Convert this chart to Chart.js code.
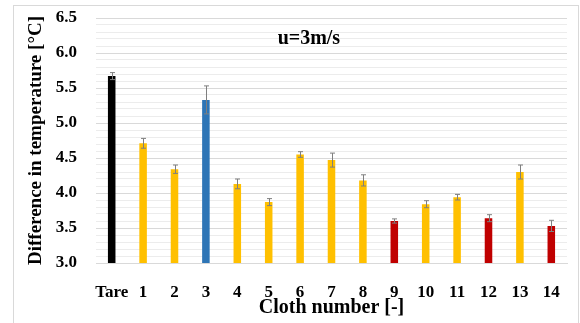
<!DOCTYPE html>
<html>
<head>
<meta charset="utf-8">
<script src="https://cdn.jsdelivr.net/npm/chart.js@4"></script>
<style>
  body { margin: 0; background: #fff; }
  #wrap { position: relative; width: 580px; height: 323px; overflow: hidden; }
  #frame { position: absolute; left: 13px; top: 5px; width: 566px; height: 340px; border: 1px solid #d9d9d9; box-sizing: border-box; }
  #clothChart { position: absolute; left: 0; top: 0; display: block; }
</style>
</head>
<body>
<div id="wrap">
  <div id="frame"></div>
  <canvas id="clothChart" width="580" height="323"></canvas>
</div>
<script>
const cloths = ["Tare", "1", "2", "3", "4", "5", "6", "7", "8", "9", "10", "11", "12", "13", "14"];
const tempDiff = [5.67, 4.71, 4.34, 5.33, 4.13, 3.87, 4.55, 4.47, 4.18, 3.60, 3.84, 3.94, 3.64, 4.30, 3.53];
const tempErr = [0.05, 0.07, 0.06, 0.20, 0.07, 0.05, 0.04, 0.10, 0.08, 0.03, 0.05, 0.04, 0.05, 0.10, 0.08];
const barColors = ["#000000", "#ffc000", "#ffc000", "#2e75b6", "#ffc000", "#ffc000", "#ffc000", "#ffc000",
                   "#ffc000", "#c00000", "#ffc000", "#ffc000", "#c00000", "#ffc000", "#c00000"];

const serif = "'Liberation Serif', 'Times New Roman', serif";

// error bars with small caps, drawn over each bar
const errorBars = {
    id: "errorBars",
    afterDatasetsDraw(chart) {
        const ctx = chart.ctx;
        const y = chart.scales.y;
        const meta = chart.getDatasetMeta(0);
        ctx.save();
        ctx.strokeStyle = "#7f7f7f";
        ctx.lineWidth = 1;
        meta.data.forEach((bar, i) => {
            const x = Math.round(bar.x) + 0.5;
            const top = y.getPixelForValue(tempDiff[i] + tempErr[i]);
            const bot = y.getPixelForValue(tempDiff[i] - tempErr[i]);
            ctx.beginPath();
            ctx.moveTo(x, top);
            ctx.lineTo(x, bot);
            ctx.moveTo(x - 2.5, top);
            ctx.lineTo(x + 2.5, top);
            ctx.moveTo(x - 2.5, bot);
            ctx.lineTo(x + 2.5, bot);
            ctx.stroke();
        });
        ctx.restore();
    }
};

// wind speed label inside the plot
const speedLabel = {
    id: "speedLabel",
    afterDraw(chart) {
        const ctx = chart.ctx;
        const area = chart.chartArea;
        ctx.save();
        ctx.font = "bold 20px " + serif;
        ctx.fillStyle = "#000";
        ctx.textAlign = "center";
        ctx.textBaseline = "middle";
        ctx.fillText("u=3m/s", area.left + area.width * 0.452, area.top + 21);
        ctx.restore();
    }
};

new Chart("clothChart", {
    type: "bar",
    data: {
        labels: cloths,
        datasets: [{
            data: tempDiff,
            backgroundColor: barColors,
            barPercentage: 0.24,
            categoryPercentage: 1
        }]
    },
    options: {
        responsive: false,
        animation: false,
        layout: { padding: { left: 0, right: 13, top: 18, bottom: 0 } },
        plugins: {
            legend: { display: false },
            tooltip: { enabled: false }
        },
        scales: {
            x: {
                grid: { display: false },
                border: { color: "#d9d9d9" },
                ticks: {
                    color: "#000",
                    padding: 11,
                    autoSkip: false,
                    maxRotation: 0,
                    font: { family: serif, size: 17, weight: "bold" }
                },
                title: {
                    display: true,
                    text: "Cloth number [-]",
                    color: "#000",
                    padding: { top: 0, bottom: 3 },
                    font: { family: serif, size: 20, weight: "bold" }
                },
                afterFit(scale) { scale.height = 60; }
            },
            y: {
                min: 3,
                max: 6.5,
                border: { display: false },
                grid: {
                    drawTicks: false,
                    color: (c) => {
                        const v = c.tick.value * 2;
                        return Math.abs(v - Math.round(v)) < 1e-6 ? "#d9d9d9" : "#ececec";
                    }
                },
                ticks: {
                    stepSize: 0.1,
                    autoSkip: false,
                    padding: 19,
                    color: "#000",
                    font: { family: serif, size: 17, weight: "bold" },
                    callback: (v) => {
                        const d = v * 2;
                        return Math.abs(d - Math.round(d)) < 1e-6 ? Number(v).toFixed(1) : "";
                    }
                },
                title: {
                    display: true,
                    text: "Difference in temperature [°C]",
                    color: "#000",
                    padding: { top: 25, bottom: 0 },
                    font: { family: serif, size: 19, weight: "bold" }
                },
                afterFit(scale) {
                    scale.width = 96;
                    scale.paddingTop = 0;
                    scale.paddingBottom = 0;
                }
            }
        }
    },
    plugins: [errorBars, speedLabel]
});
</script>
</body>
</html>
